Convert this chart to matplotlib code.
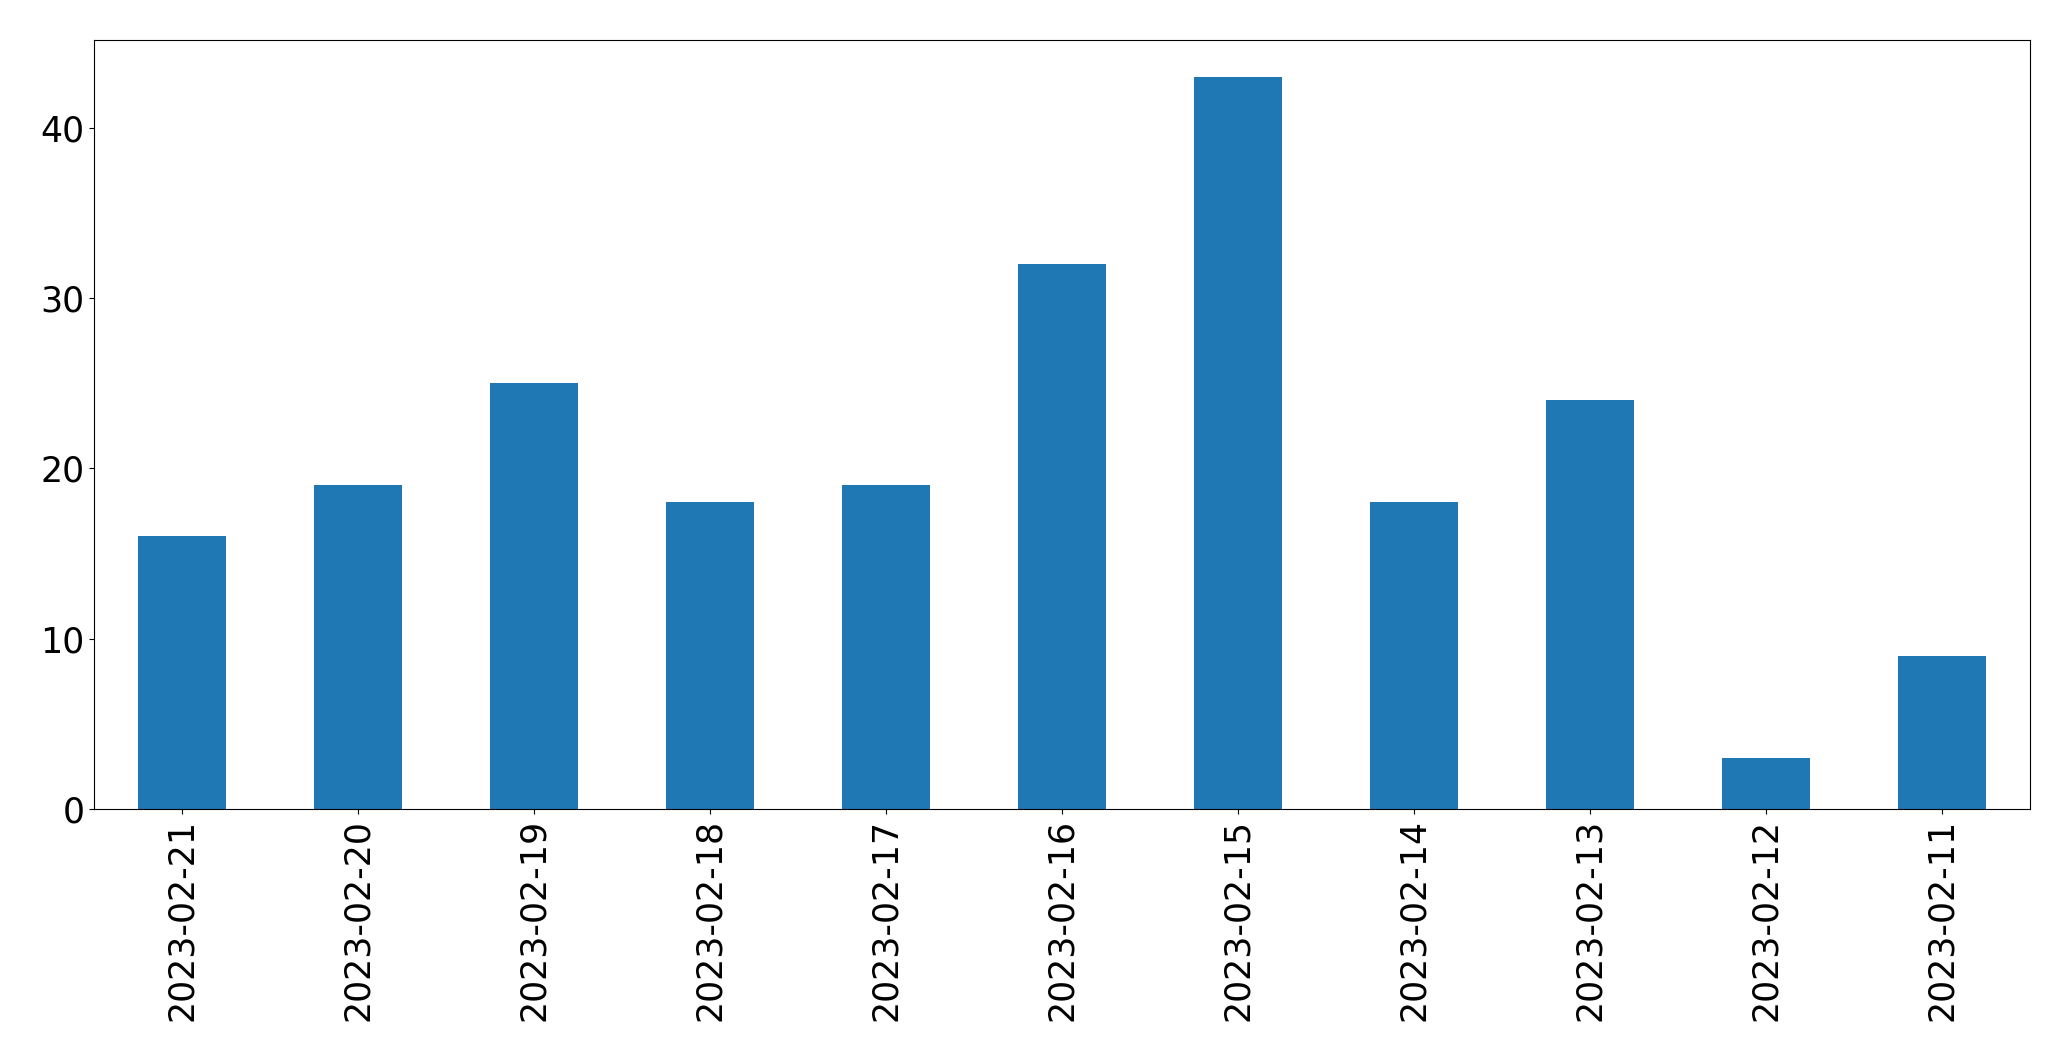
import matplotlib.pyplot as plt

dates = ["2023-02-21", "2023-02-20", "2023-02-19", "2023-02-18", "2023-02-17",
         "2023-02-16", "2023-02-15", "2023-02-14", "2023-02-13", "2023-02-12",
         "2023-02-11"]
counts = [16, 19, 25, 18, 19, 32, 43, 18, 24, 3, 9]

fig, ax = plt.subplots()
fig.set_size_inches(20.71, 10.61)
fig.subplots_adjust(left=0.0454, right=0.9802, bottom=0.2375, top=0.9623)

ax.bar(range(len(dates)), counts, width=0.5, color="#1f77b4")
ax.set_xticks(range(len(dates)))
ax.set_xticklabels(dates, rotation=90)
ax.set_xlim(-0.5, len(dates) - 0.5)
ax.tick_params(labelsize=25)

plt.savefig("out.png", dpi=100)
